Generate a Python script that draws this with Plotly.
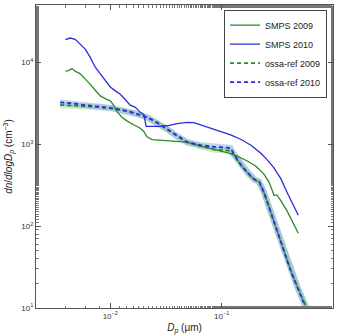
import plotly.graph_objects as go

# SMPS 2010 (blue solid)
smps2010_x = [0.00396, 0.00436, 0.00484, 0.00537, 0.00596, 0.00661, 0.00733, 0.00813, 0.00902, 0.0100,
              0.0111, 0.0123, 0.0136, 0.0151, 0.0168, 0.0186, 0.0200, 0.0210, 0.0263, 0.0324, 0.0399,
              0.0491, 0.0564, 0.0647, 0.0796, 0.0980, 0.1205, 0.148, 0.182, 0.224, 0.258, 0.296,
              0.340, 0.391, 0.449, 0.488]
smps2010_y = [18900, 19800, 19100, 16600, 14500, 11500, 8710, 7230, 6010, 5000,
              4480, 4080, 3520, 3000, 2820, 2450, 2300, 1650, 1650, 1680, 1780,
              1850, 1840, 1730, 1560, 1420, 1300, 1150, 980, 780, 640, 510,
              380, 250, 171, 136]

# SMPS 2009 (green solid)
smps2009_x = [0.00396, 0.00422, 0.00452, 0.00484, 0.00537, 0.00596, 0.00661, 0.00733, 0.00813, 0.00902,
              0.0100, 0.0107, 0.0115, 0.0127, 0.0141, 0.0162, 0.0186, 0.0200, 0.0214, 0.0237, 0.0282,
              0.0372, 0.0491, 0.0647, 0.0853, 0.112, 0.138, 0.170, 0.202, 0.240, 0.267, 0.286, 0.296,
              0.313, 0.340, 0.391, 0.449, 0.488]
smps2009_y = [7800, 7940, 8400, 7800, 7230, 6300, 5380, 4560, 3890, 3610,
              3390, 3000, 2500, 2140, 1930, 1730, 1570, 1430, 1230, 1140, 1120,
              1110, 1060, 946, 863, 787, 717, 624, 543, 431, 342, 259, 236,
              240, 205, 149, 103, 82]

# ossa-ref 2010 (blue dashed)
ossa2010_x = [0.00355, 0.00467, 0.00617, 0.00813, 0.0107, 0.0141, 0.0174, 0.0214, 0.0263, 0.0324,
              0.0399, 0.0491, 0.0647, 0.0853, 0.1205, 0.129, 0.148, 0.170, 0.195, 0.217, 0.240,
              0.276, 0.318, 0.365, 0.419, 0.481, 0.533, 0.571]
ossa2010_y = [3240, 3150, 2980, 2870, 2740, 2550, 2340, 2140, 1840, 1530,
              1250, 1060, 973, 929, 903, 751, 569, 452, 375, 349, 259,
              149, 85, 49, 28, 17.7, 12.8, 10]

# ossa-ref 2009 (green dashed)
ossa2009_x = [0.00355, 0.00467, 0.00617, 0.00813, 0.0107, 0.0141, 0.0174, 0.0214, 0.0263, 0.0324,
              0.0399, 0.0491, 0.0647, 0.0853, 0.1205, 0.129, 0.148, 0.170, 0.195, 0.217, 0.240,
              0.276, 0.318, 0.365, 0.419, 0.481, 0.533, 0.580]
ossa2009_y = [3020, 2980, 2900, 2830, 2720, 2540, 2330, 2130, 1830, 1520,
              1240, 1050, 950, 860, 830, 740, 565, 450, 372, 345, 257,
              148, 85, 49, 28.5, 18, 13, 10]

x_tickvals = [0.01, 0.1, 1]
x_ticktext = ["10<sup>−2</sup>", "10<sup>−1</sup>", "10<sup>0</sup>"]
y_tickvals = [10, 100, 1000, 10000]
y_ticktext = ["10<sup>1</sup>", "10<sup>2</sup>", "10<sup>3</sup>", "10<sup>4</sup>"]

GREEN = "#2a8a2a"
BLUE = "#2b2bdc"

fig = go.Figure()
# uncertainty bands
fig.add_trace(go.Scatter(x=ossa2009_x, y=ossa2009_y, mode="lines",
                         line=dict(color="rgba(140,205,140,0.45)", width=6), showlegend=False, hoverinfo="skip"))
fig.add_trace(go.Scatter(x=ossa2010_x, y=ossa2010_y, mode="lines",
                         line=dict(color="rgba(120,165,215,0.45)", width=6), showlegend=False, hoverinfo="skip"))

fig.add_trace(go.Scatter(x=smps2009_x, y=smps2009_y, mode="lines", name="SMPS 2009",
                         line=dict(color=GREEN, width=1.3)))
fig.add_trace(go.Scatter(x=smps2010_x, y=smps2010_y, mode="lines", name="SMPS 2010",
                         line=dict(color=BLUE, width=1.3)))
fig.add_trace(go.Scatter(x=ossa2009_x, y=ossa2009_y, mode="lines", name="ossa-ref 2009",
                         line=dict(color=GREEN, width=1.8, dash="4px,3px")))
fig.add_trace(go.Scatter(x=ossa2010_x, y=ossa2010_y, mode="lines", name="ossa-ref 2010",
                         line=dict(color=BLUE, width=1.8, dash="4px,3px")))

axis_common = dict(type="log", showgrid=False, zeroline=False, showline=True, linecolor="#555",
                   linewidth=1, mirror="ticks", ticks="inside", ticklen=5, tickcolor="#555",
                   tickfont=dict(family="Liberation Sans, Arial, sans-serif", size=8, color="#333"),
                   minor=dict(ticks="inside", ticklen=2.5, tickcolor="#777", showgrid=False))

fig.update_layout(
    width=338, height=336,
    margin=dict(l=36, r=5, t=4, b=25),
    paper_bgcolor="white", plot_bgcolor="white",
    font=dict(family="Liberation Sans, Arial, sans-serif", color="#222"),
    xaxis=dict(axis_common, range=[-2.667, 0], tickvals=x_tickvals, ticktext=x_ticktext,
               title=dict(text="<i>D<sub>p</sub></i> (μm)", font=dict(size=10), standoff=4)),
    yaxis=dict(axis_common, range=[1, 4.7], tickvals=y_tickvals, ticktext=y_ticktext,
               title=dict(text="<i>dn</i>/<i>dlogD<sub>p</sub></i> (cm<sup>−3</sup>)", font=dict(size=10), standoff=6)),
    legend=dict(x=0.98, y=0.985, xanchor="right", yanchor="top",
                bordercolor="#444", borderwidth=1, bgcolor="white",
                font=dict(size=9, family="Liberation Sans, Arial, sans-serif"),
                itemwidth=30, tracegroupgap=0),
)

fig.write_html("out.html")
